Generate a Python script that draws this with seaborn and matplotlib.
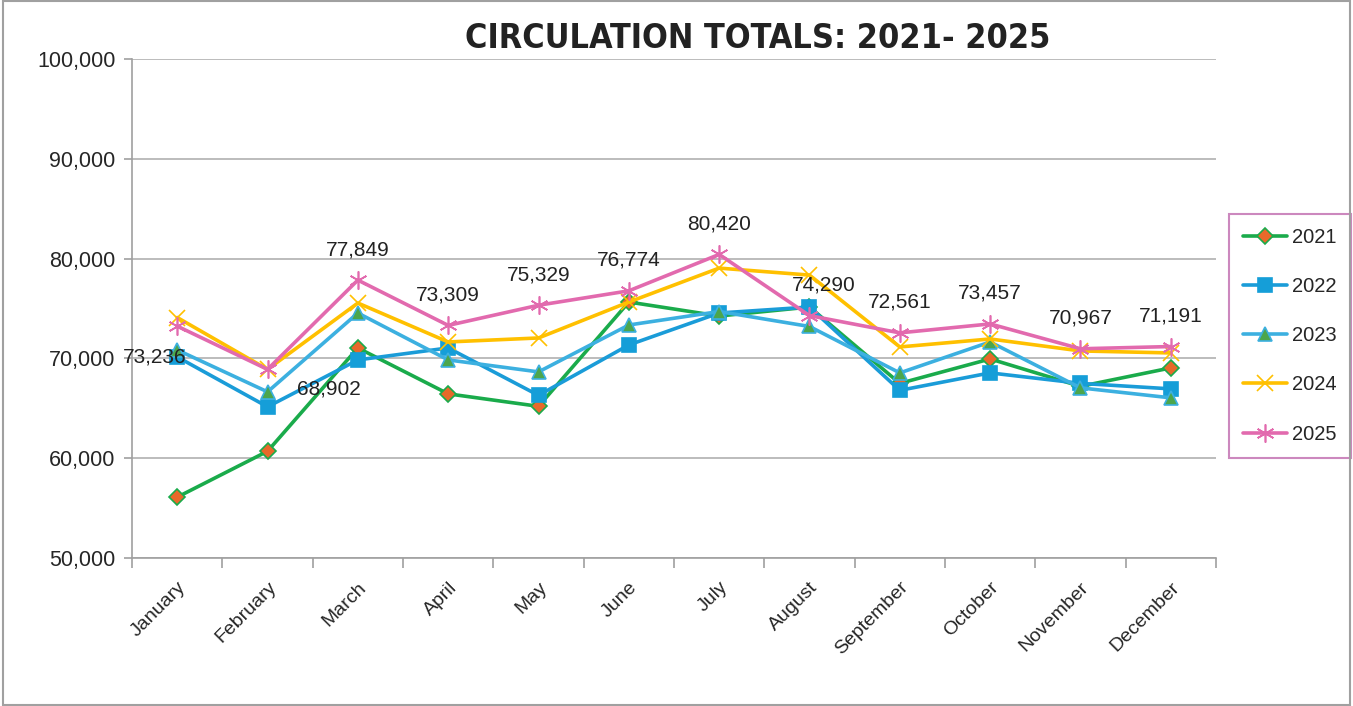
import pandas as pd
import numpy as np
import seaborn as sns
import matplotlib.pyplot as plt

months = ["January", "February", "March", "April", "May", "June", "July",
          "August", "September", "October", "November", "December"]

y2021 = [56100, 60700, 71050, 66450, 65200, 75650, 74250, 75150, 67500, 69950, 67200, 69050]
y2022 = [70150, 65150, 69850, 71050, 66300, 71350, 74550, 75150, 66800, 68550, 67500, 66950]
y2023 = [70850, 66650, 74550, 69850, 68650, 73350, 74700, 73200, 68550, 71650, 67050, 66050]
y2024 = [74100, 68900, 75550, 71650, 72050, 75650, 79050, 78350, 71150, 71950, 70750, 70550]
y2025 = [73236, 68902, 77849, 73309, 75329, 76774, 80420, 74290, 72561, 73457, 70967, 71191]

# label offsets (points) for the 2025 data labels
lbl_off = [(-16, -22), (44, -14), (0, 22), (0, 22), (0, 22), (0, 22),
           (0, 22), (10, 22), (0, 22), (0, 22), (0, 22), (0, 22)]

sns.set_theme(style="white")
plt.rcParams['font.family'] = ['Liberation Sans', 'DejaVu Sans']

fig = plt.figure(figsize=(13.53, 7.06), dpi=100)
ax = fig.add_axes([0.0976, 0.2096, 0.8011, 0.7068])

x = np.arange(len(months))
series = [
    ("2021", y2021, "#1AAB4B", "D", "#E8692A", "#1AAB4B", 8),
    ("2022", y2022, "#1A9CD8", "s", "#159ED8", "#159ED8", 10),
    ("2023", y2023, "#3CB0E0", "^", "#4CA64C", "#3CB0E0", 10),
    ("2024", y2024, "#FFC000", "x", "#FFC000", "#FFC000", 11),
    ("2025", y2025, "#E26AAE", (6, 2, 0), "#E26AAE", "#E26AAE", 13),
]
for name, vals, col, mk, mfc, mec, ms in series:
    df = pd.DataFrame({"pos": x, "val": vals})
    sns.lineplot(data=df, x="pos", y="val", ax=ax, color=col, lw=2.6,
                 marker=mk, markersize=ms, markerfacecolor=mfc,
                 markeredgecolor=mec, markeredgewidth=1.2, label=name)

for i, v in enumerate(y2025):
    ax.annotate(f"{v:,}", (x[i], v), xytext=lbl_off[i], textcoords="offset points",
                ha="center", va="center", fontsize=15, color="#222222")

ax.set_xlim(-0.5, 11.5)
ax.set_ylim(50000, 100000)
ax.set_yticks(range(50000, 100001, 10000))
ax.set_yticklabels([f"{v:,}" for v in range(50000, 100001, 10000)], fontsize=15.5)
ax.yaxis.grid(True, color="#B0B0B0", lw=1.2)
ax.set_xticks(x)
ax.set_xticklabels(months, rotation=45, ha="right", rotation_mode="anchor", fontsize=14)
ax.set_xticks(np.arange(-0.5, 12, 1), minor=True)
ax.tick_params(axis="x", which="major", length=0, pad=15)
ax.tick_params(axis="x", which="minor", length=7, color="#A0A0A0", width=1.2, direction="out", bottom=True)
ax.tick_params(axis="y", length=6, color="#A0A0A0", width=1.2, direction="out", left=True, pad=6)
ax.set_xlabel("")
ax.set_ylabel("")
for s in ["top", "right"]:
    ax.spines[s].set_visible(False)
for s in ["left", "bottom"]:
    ax.spines[s].set_color("#A0A0A0")
    ax.spines[s].set_linewidth(1.2)

leg = ax.legend(loc="upper left", bbox_to_anchor=(1.012, 0.69), fontsize=14.5,
                frameon=True, fancybox=False, labelspacing=1.5, handlelength=2.2,
                borderpad=0.7, handletextpad=0.25, borderaxespad=0)
leg.get_frame().set_edgecolor("#C06AAE")
leg.get_frame().set_linewidth(1.5)

fig.text(0.56, 0.945, "CIRCULATION TOTALS: 2021- 2025", ha="center", va="center",
         fontsize=24.5, fontweight="bold", family="DejaVu Sans", fontstretch="condensed",
         color="#222222")

fig.patches.append(plt.Rectangle((0.002, 0.002), 0.996, 0.996, transform=fig.transFigure,
                                 fill=False, edgecolor="#A0A0A0", lw=1.5))

plt.savefig("out.png", dpi=100)
